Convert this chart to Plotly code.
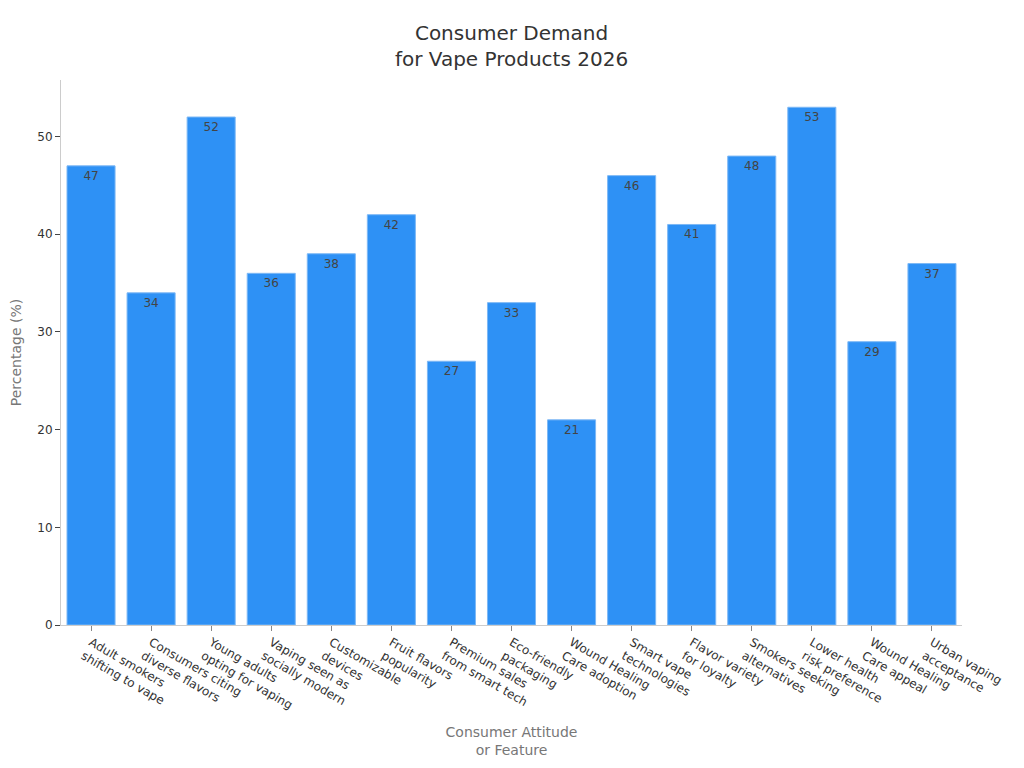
import plotly.graph_objects as go

categories = [
    "Adult smokers<br>shifting to vape",
    "Consumers citing<br>diverse flavors",
    "Young adults<br>opting for vaping",
    "Vaping seen as<br>socially modern",
    "Customizable<br>devices",
    "Fruit flavors<br>popularity",
    "Premium sales<br>from smart tech",
    "Eco-friendly<br>packaging",
    "Wound Healing<br>Care adoption",
    "Smart vape<br>technologies",
    "Flavor variety<br>for loyalty",
    "Smokers seeking<br>alternatives",
    "Lower health<br>risk preference",
    "Wound Healing<br>Care appeal",
    "Urban vaping<br>acceptance",
]
percentages = [47, 34, 52, 36, 38, 42, 27, 33, 21, 46, 41, 48, 53, 29, 37]

fig = go.Figure()
fig.add_bar(
    x=categories,
    y=percentages,
    text=percentages,
    textposition="inside",
    insidetextanchor="end",
    textfont=dict(color="#444444", size=12),
    marker=dict(color="#2E91F5", line=dict(color="#7DB8F5", width=1)),
    width=0.8,
)

fig.update_layout(
    width=1024,
    height=768,
    font=dict(family="DejaVu Sans", color="#333333", size=12),
    paper_bgcolor="white",
    plot_bgcolor="white",
    title=dict(
        text="Consumer Demand<br>for Vape Products 2026",
        x=0.5,
        xref="paper",
        xanchor="center",
        y=0.9585,
        yanchor="top",
        font=dict(size=20, color="#333333"),
    ),
    margin=dict(l=53, r=70, t=72, b=151),
    showlegend=False,
)
fig.update_xaxes(
    title=dict(text="Consumer Attitude<br>or Feature", font=dict(color="#777777", size=14)),
    tickangle=30,
    ticks="outside",
    ticklen=5,
    tickcolor="#888888",
    showline=True,
    linecolor="#cccccc",
    showgrid=False,
    automargin=False,
)
fig.update_yaxes(
    title=dict(text="Percentage (%)", font=dict(color="#777777", size=14), standoff=18),
    ticks="outside",
    ticklen=5,
    tickcolor="#444444",
    showline=True,
    linecolor="#cccccc",
    showgrid=False,
    zeroline=False,
    dtick=10,
    automargin=False,
)

fig.write_html("out.html")
